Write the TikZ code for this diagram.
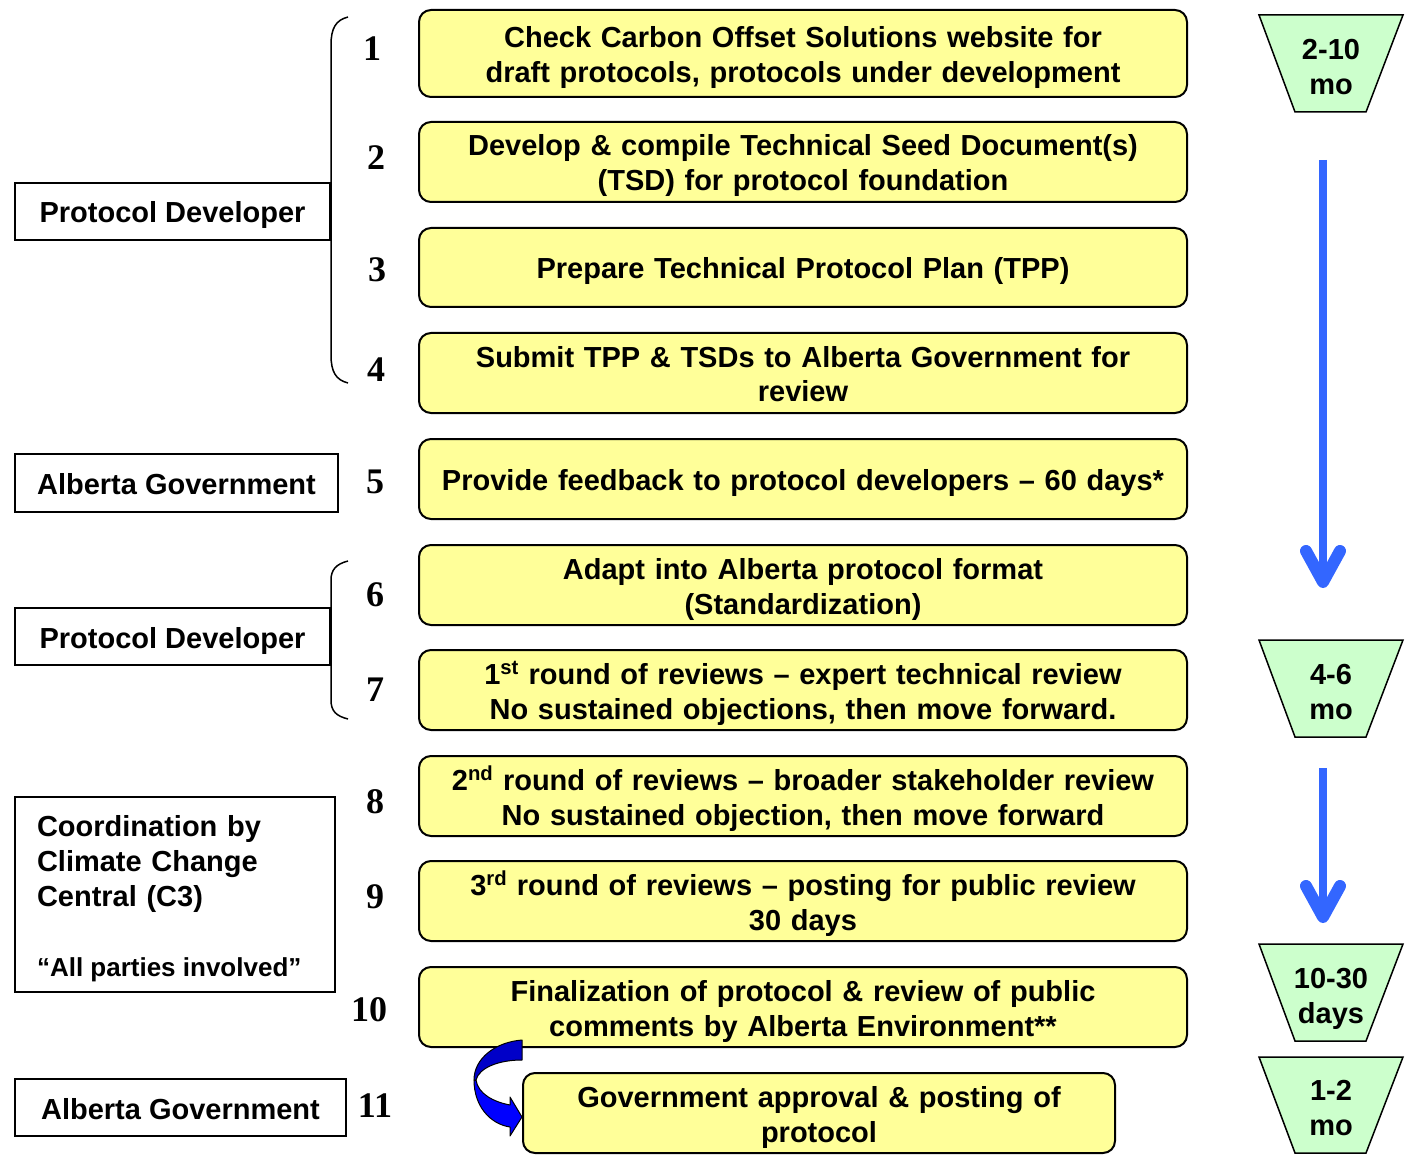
\documentclass[tikz,border=0pt]{standalone}
\usepackage{fontspec}
\setmainfont{Liberation Sans}
\newfontfamily\numfont{Liberation Serif}
\definecolor{boxyellow}{HTML}{FFFF99}
\definecolor{trapgreen}{HTML}{CCFFCC}
\definecolor{flowblue}{HTML}{3366FF}
\definecolor{darkblue}{HTML}{0000C8}
\definecolor{brightblue}{HTML}{0000FF}
\newcommand\topstrutx{\rule{0pt}{30pt}}
\newcommand\botstrutx{\rule[-7pt]{0pt}{7pt}}
\newcommand\boxfontx{\bfseries\fontsize{29}{35}\selectfont\spaceskip=\fontdimen2\font\relax}
\begin{document}
\begin{tikzpicture}[x=1pt,y=-1pt,
  strutted/.style={execute at begin node=\topstrutx, execute at end node=\botstrutx},
  pbox/.style={draw, line width=2pt, fill=boxyellow, rounded corners=12pt,
    minimum width=768pt, minimum height=80pt, text width=760pt, align=center, inner sep=0pt,
    font=\boxfontx, strutted},
  rolebox/.style={draw, line width=2.5pt, inner sep=0pt, align=center,
    minimum height=57pt, font=\boxfontx, strutted},
  num/.style={font=\numfont\bfseries\fontsize{36}{40}\selectfont, inner sep=0pt},
  trap/.style={draw, line width=1.5pt, fill=trapgreen},
  traptext/.style={text width=130pt, align=center, inner sep=0pt,
    font=\boxfontx, strutted},
  flow/.style={line width=8pt, draw=flowblue},
  chev/.style={line width=12pt, draw=flowblue, line cap=round, line join=round},
  bracep/.style={line width=1.5pt}
]
\useasboundingbox (0,0) rectangle (1408,1155);

% main step boxes
\node[pbox, minimum height=87pt] (b1) at (803,53.5) {Check Carbon Offset Solutions website for\\draft protocols, protocols under development};
\node[pbox] (b2) at (803,162) {Develop \& compile Technical Seed Document(s)\\(TSD) for protocol foundation};
\node[pbox, minimum height=79pt] (b3) at (803,267.5) {Prepare Technical Protocol Plan (TPP)};
\node[pbox] (b4) at (803,373) {Submit TPP \& TSDs to Alberta Government for\\review};
\node[pbox] (b5) at (803,479) {Provide feedback to protocol developers – 60 days*};
\node[pbox] (b6) at (803,585) {Adapt into Alberta protocol format\\(Standardization)};
\node[pbox] (b7) at (803,690) {1\textsuperscript{st} round of reviews – expert technical review\\No sustained objections, then move forward.};
\node[pbox] (b8) at (803,796) {2\textsuperscript{nd} round of reviews – broader stakeholder review\\No sustained objection, then move forward};
\node[pbox] (b9) at (803,901) {3\textsuperscript{rd} round of reviews – posting for public review\\30 days};
\node[pbox] (b10) at (803,1007) {Finalization of protocol \& review of public\\comments by Alberta Environment**};
\node[pbox, minimum width=592pt, text width=584pt] (b11) at (819,1113) {Government approval \& posting of\\protocol};

% step numbers
\node[num] (n1) at (372,49) {1};
\node[num] (n2) at (376,158) {2};
\node[num] (n3) at (377,270) {3};
\node[num] (n4) at (376,370) {4};
\node[num] (n5) at (375,482) {5};
\node[num] (n6) at (375,595) {6};
\node[num] (n7) at (375,690) {7};
\node[num] (n8) at (375,802) {8};
\node[num] (n9) at (375,897) {9};
\node[num] (n10) at (369,1010) {10};
\node[num] (n11) at (375,1106) {11};

% role boxes
\node[rolebox, minimum width=315pt] (r1) at (172.5,211.5) {Protocol Developer};
\node[rolebox, minimum width=323pt, minimum height=58pt] (r2) at (176.5,483) {Alberta Government};
\node[rolebox, minimum width=315pt] (r3) at (172.5,636.5) {Protocol Developer};
\node[rolebox, minimum width=320pt, minimum height=195pt, align=left,
  text width=276pt, inner xsep=22pt] (r4) at (175,894.5)
  {Coordination by\\Climate Change\\Central (C3)\\[35pt]{\fontsize{26}{35}\selectfont\spaceskip=\fontdimen2\font\relax “All parties involved”}};
\node[rolebox, minimum width=331pt] (r5) at (180.5,1107.5) {Alberta Government};

% braces
\draw[bracep] (348,17) .. controls (336,20) and (331,28) .. (331,45)
  -- (331,355) .. controls (331,372) and (336,380) .. (348,383);
\draw[bracep] (348,561) .. controls (336,564) and (331,570) .. (331,580)
  -- (331,700) .. controls (331,711) and (336,716) .. (348,719);

% duration trapezoids
\draw[trap] (1259,15) -- (1403,15) -- (1366,112) -- (1295,112) -- cycle;
\node[traptext] (t1) at (1331,65.5) {2-10\\mo};
\draw[trap] (1259,640) -- (1403,640) -- (1366,737) -- (1295,737) -- cycle;
\node[traptext] (t2) at (1331,690) {4-6\\mo};
\draw[trap] (1259,944) -- (1403,944) -- (1366,1041) -- (1295,1041) -- cycle;
\node[traptext] (t3) at (1331,994) {10-30\\days};
\draw[trap] (1259,1057) -- (1403,1057) -- (1366,1153) -- (1295,1153) -- cycle;
\node[traptext] (t4) at (1331,1106) {1-2\\mo};

% blue flow arrows
\coordinate (a1s) at (1323,160);
\coordinate (a1e) at (1323,582);
\draw[flow] (a1s) -- (a1e);
\draw[chev] ([xshift=-17pt,yshift=31pt]a1e) -- (a1e) -- ([xshift=17pt,yshift=31pt]a1e);
\coordinate (a2s) at (1323,768);
\coordinate (a2e) at (1323,917);
\draw[flow] (a2s) -- (a2e);
\draw[chev] ([xshift=-17pt,yshift=31pt]a2e) -- (a2e) -- ([xshift=17pt,yshift=31pt]a2e);

% curved arrow from step 10 to step 11
\draw[line width=1pt, fill=brightblue, line join=round]
  (474,1080) .. controls (474,1106) and (490,1124) .. (510,1127)
  -- (510,1136) -- (b11.west |- 0,1117) -- (510,1097) -- (510,1105)
  .. controls (494,1102) and (478,1094) .. (476,1080) -- cycle;
\draw[line width=1pt, fill=darkblue, line join=round]
  (522,1040) .. controls (496,1042) and (474,1058) .. (474,1080)
  -- (476,1080) .. controls (479,1068) and (498,1060) .. (522,1060) -- cycle;
\end{tikzpicture}
\end{document}
